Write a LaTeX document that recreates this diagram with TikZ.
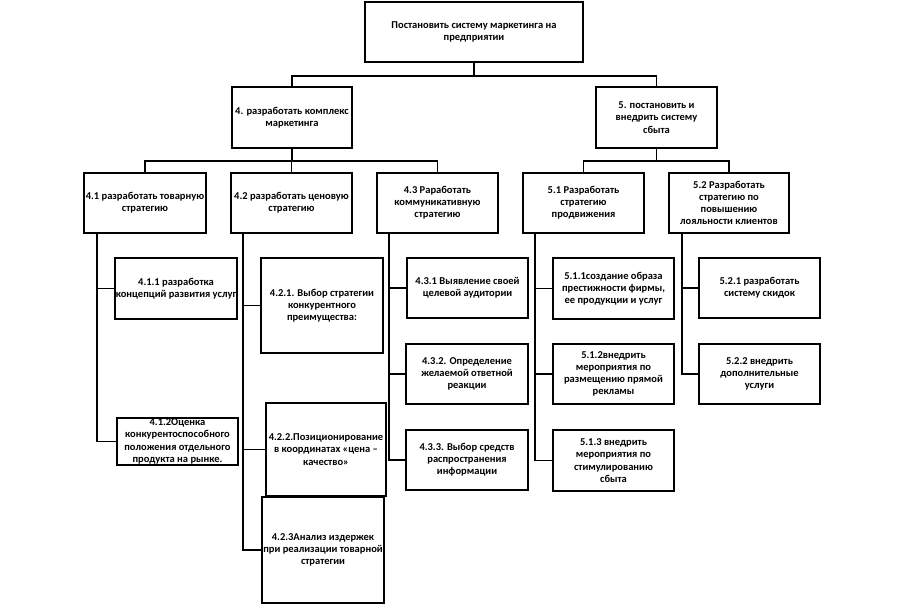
\documentclass[tikz,border=0pt]{standalone}
\usepackage{fontspec}
\setmainfont{Carlito}
\begin{document}
\begin{tikzpicture}[x=1pt,y=-1pt,
  box/.style={draw, line width=1.6pt, align=center, inner sep=0pt,
    font=\bfseries\fontsize{10.5}{12.2}\selectfont},
  link/.style={line width=1.6pt}]
\useasboundingbox (0,0) rectangle (905,604);
\fill[white] (0,0) rectangle (905,604);
% level 0
\node[box, minimum width=218pt, minimum height=60pt] (top) at (474,32) {Постановить систему маркетинга на\\предприятии};
% level 1
\node[box, minimum width=120pt, minimum height=61pt] (n4) at (292,117.5) {4. разработать комплекс\\маркетинга};
\node[box, minimum width=121pt, minimum height=61pt] (n5) at (656.5,117.5) {5. постановить и\\внедрить систему\\сбыта};
% level 2
\node[box, minimum width=122pt, minimum height=60pt] (n41) at (145,203) {4.1 разработать товарную\\стратегию};
\node[box, minimum width=121pt, minimum height=60pt] (n42) at (291.5,203) {4.2 разработать ценовую\\стратегию};
\node[box, minimum width=121pt, minimum height=60pt] (n43) at (437.5,203) {4.3 Раработать\\коммуникативную\\стратегию};
\node[box, minimum width=121pt, minimum height=60pt] (n51) at (583.5,203) {5.1 Разработать\\стратегию\\продвижения};
\node[box, minimum width=120pt, minimum height=60pt] (n52) at (729,203) {5.2 Разработать\\стратегию по\\повышению\\лояльности клиентов};
% level 3
\node[box, minimum width=122pt, minimum height=61pt] (n411) at (176,288.5) {4.1.1 разработка\\концепций развития услуг};
\node[box, minimum width=121pt, minimum height=47pt] (n412) at (177.5,441.5) {4.1.2Оценка\\конкурентоспособного\\положения отдельного\\продукта на рынке.};
\node[box, minimum width=122pt, minimum height=95pt] (n421) at (322,305.5) {4.2.1. Выбор стратегии\\конкурентного\\преимущества:};
\node[box, minimum width=120pt, minimum height=93pt] (n422) at (326,449.5) {4.2.2.Позиционирование\\в координатах «цена –\\качество»};
\node[box, minimum width=122pt, minimum height=106pt] (n423) at (323,550) {4.2.3Анализ издержек\\при реализации товарной\\стратегии};
\node[box, minimum width=121pt, minimum height=60pt] (n431) at (467.5,288) {4.3.1 Выявление своей\\целевой аудитории};
\node[box, minimum width=122pt, minimum height=60pt] (n432) at (467,374) {4.3.2. Определение\\желаемой ответной\\реакции};
\node[box, minimum width=122pt, minimum height=60pt] (n433) at (467,460) {4.3.3. Выбор средств\\распространения\\информации};
\node[box, minimum width=121pt, minimum height=61pt] (n511) at (613.5,288.5) {5.1.1создание образа\\престижности фирмы,\\ее продукции и услуг};
\node[box, minimum width=121pt, minimum height=60pt] (n512) at (613.5,374) {5.1.2внедрить\\мероприятия по\\размещению прямой\\рекламы};
\node[box, minimum width=121pt, minimum height=61pt] (n513) at (613.5,460.5) {5.1.3 внедрить\\мероприятия по\\стимулированию\\сбыта};
\node[box, minimum width=121pt, minimum height=60pt] (n521) at (759.5,288) {5.2.1 разработать\\систему скидок};
\node[box, minimum width=121pt, minimum height=60pt] (n522) at (759.5,374) {5.2.2 внедрить\\дополнительные\\услуги};
% junctions
\coordinate (j0) at (474,76);
\coordinate (j4) at (292,161);
\coordinate (j5) at (656.5,161);
\coordinate (t41) at (97,233);
\coordinate (t42) at (243,233);
\coordinate (t43) at (389,233);
\coordinate (t51) at (535,233);
\coordinate (t52) at (682,233);
% connectors
\draw[link] (top.south) -- (j0) -| (n4.north);
\draw[link] (j0) -| (n5.north);
\draw[link] (n4.south) -- (j4) -| (n41.north);
\draw[link] (j4) -| (n42.north);
\draw[link] (j4) -| (n43.north);
\draw[link] (n5.south) -- (j5) -| (n51.north);
\draw[link] (j5) -| (n52.north);
\draw[link] (t41) |- (n411.west);
\draw[link] (t41) |- (n412.west);
\draw[link] (t42) |- (n421.west);
\draw[link] (t42) |- (n422.west);
\draw[link] (t42) |- (n423.west);
\draw[link] (t43) |- (n431.west);
\draw[link] (t43) |- (n432.west);
\draw[link] (t43) |- (n433.west);
\draw[link] (t51) |- (n511.west);
\draw[link] (t51) |- (n512.west);
\draw[link] (t51) |- (n513.west);
\draw[link] (t52) |- (n521.west);
\draw[link] (t52) |- (n522.west);
\end{tikzpicture}
\end{document}
